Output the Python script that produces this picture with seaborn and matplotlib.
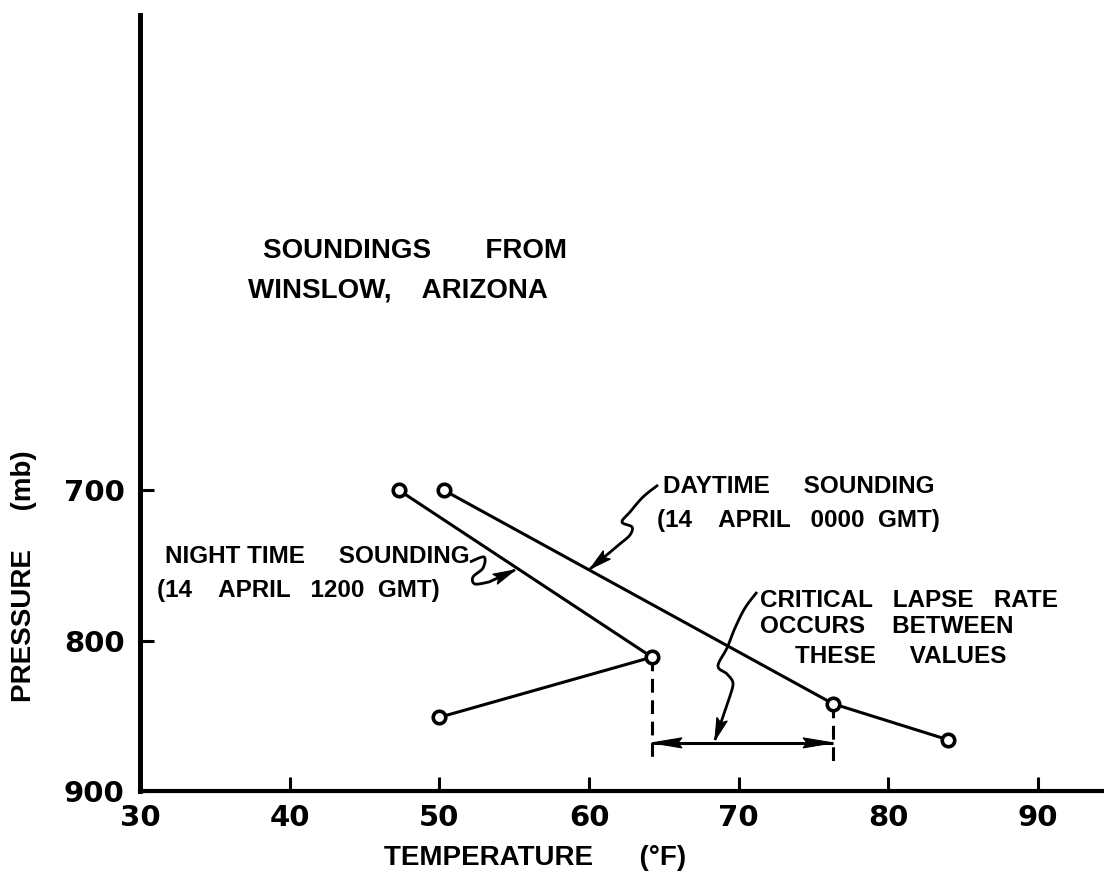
import numpy as np
import pandas as pd
import matplotlib
matplotlib.use("Agg")
import matplotlib.pyplot as plt
import seaborn as sns

# ---------------- data ----------------
night_temp = [47.3, 64.2, 50.0]
night_pres = [700, 811, 851]
day_temp = [50.3, 76.3, 84.0]
day_pres = [700, 842, 866]
x_ticks = [30, 40, 50, 60, 70, 80, 90]
y_ticks = [700, 800, 900]
arrow_pres = 868      # level of the double-headed arrow
dash_bottom = 881     # lower end of the dashed verticals

W, H = 1104, 873
sns.set_theme(style="ticks")
plt.rcParams["font.family"] = ["Liberation Sans", "DejaVu Sans"]

fig = plt.figure(figsize=(W / 100, H / 100), dpi=100)
ax = fig.add_axes([140 / W, 1 - 791 / H, 1 - 140 / W, (791 - 15) / H])

line_kw = dict(color="black", lw=2.2, marker="o", markersize=9,
               markerfacecolor="white", markeredgecolor="black",
               markeredgewidth=2.6, zorder=4)
df_n = pd.DataFrame({"temp": night_temp, "pres": night_pres})
df_d = pd.DataFrame({"temp": day_temp, "pres": day_pres})
sns.lineplot(data=df_n, x="temp", y="pres", sort=False, estimator=None, ax=ax, **line_kw)
sns.lineplot(data=df_d, x="temp", y="pres", sort=False, estimator=None, ax=ax, **line_kw)

ax.set_xlim(30, 94.4)
ax.set_ylim(900, 384)
ax.set_xticks(x_ticks)
ax.set_yticks(y_ticks)
ax.set_xlabel("")
ax.set_ylabel("")
ax.grid(False)
for s in ["top", "right"]:
    ax.spines[s].set_visible(False)
ax.spines["left"].set_linewidth(3.6)
ax.spines["bottom"].set_linewidth(3.0)
ax.spines["left"].set_color("black")
ax.spines["bottom"].set_color("black")
ax.tick_params(axis="both", direction="in", length=10, width=2.2, colors="black",
               labelsize=21, left=True, bottom=True)
ax.tick_params(axis="x", pad=9)
ax.tick_params(axis="y", pad=11)
for lab in ax.get_xticklabels() + ax.get_yticklabels():
    lab.set_fontfamily("DejaVu Sans")
    lab.set_fontweight("bold")

# ---------------- helpers for annotation placement ----------------
inv = ax.transData.inverted()
fwd = ax.transData


def P(px, py):
    return inv.transform((px, H - py))


def to_px(x, p):
    dx, dy = fwd.transform((x, p))
    return dx, H - dy


def head(tip, frm, length=22, half=5.5, notch=5):
    tip = np.asarray(tip, float)
    frm = np.asarray(frm, float)
    u = (tip - frm) / np.hypot(*(tip - frm))
    n = np.array([-u[1], u[0]])
    base = tip - u * length
    pts = [tip, base + n * half, tip - u * (length - notch), base - n * half]
    d = np.array([P(*q) for q in pts])
    ax.fill(d[:, 0], d[:, 1], color="black", lw=0.8, ec="black", zorder=5,
            clip_on=False)


def smooth(pts, n=14):
    pts = np.asarray(pts, float)
    p = np.vstack([pts[0], pts, pts[-1]])
    out = []
    for i in range(1, len(p) - 2):
        p0, p1, p2, p3 = p[i - 1], p[i], p[i + 1], p[i + 2]
        for t in np.linspace(0, 1, n, endpoint=False):
            t2, t3 = t * t, t * t * t
            out.append(0.5 * ((2 * p1) + (-p0 + p2) * t
                              + (2 * p0 - 5 * p1 + 4 * p2 - p3) * t2
                              + (-p0 + 3 * p1 - 3 * p2 + p3) * t3))
    out.append(pts[-1])
    return np.array(out)


def leader(pts, tip):
    c = np.vstack([smooth(pts), [tip]])
    d = np.array([P(x, y) for x, y in c])
    ax.plot(d[:, 0], d[:, 1], color="black", lw=2.0, zorder=3, clip_on=False,
            solid_capstyle="butt")
    head(tip, pts[-1], length=22, half=5.5, notch=4)


# dashed verticals and the double arrow
ax.plot([night_temp[1]] * 2, [night_pres[1], dash_bottom], color="black", lw=2.2,
        ls=(0, (4.5, 2.5)), zorder=2)
ax.plot([day_temp[1]] * 2, [day_pres[1], dash_bottom], color="black", lw=2.2,
        ls=(0, (4.5, 2.5)), zorder=2)
ax.plot([night_temp[1], day_temp[1]], [arrow_pres, arrow_pres], color="black",
        lw=2.2, zorder=3, solid_capstyle="butt")
left_px = to_px(night_temp[1], arrow_pres)
right_px = to_px(day_temp[1], arrow_pres)
head(left_px, right_px, length=30, half=5, notch=4)
head(right_px, left_px, length=30, half=5, notch=4)

leader([(658, 485), (643, 497), (630, 512), (622, 522), (632, 527),
        (630, 535), (621, 543)], (590, 569))
leader([(470, 562), (484, 557), (483, 568), (473, 577), (475, 584),
        (489, 582)], (515, 570))
leader([(757, 592), (745, 608), (735, 628), (727, 648), (718, 666),
        (727, 674), (733, 683), (730, 696)], (715, 740))


# ---------------- texts ----------------
def T(px, py, s, size=17.5, **kw):
    fig.text(px / W, 1 - py / H, s, ha="left", va="baseline", fontsize=size,
             fontweight="bold", color="black", **kw)


T(263, 258, "SOUNDINGS       FROM", size=20)
T(248, 297, "WINSLOW,    ARIZONA", size=20)
T(165, 563, "NIGHT TIME     SOUNDING")
T(157, 597, "(14    APRIL   1200  GMT)")
T(663, 493, "DAYTIME     SOUNDING")
T(657, 527, "(14    APRIL   0000  GMT)")
T(760, 607, "CRITICAL   LAPSE   RATE")
T(760, 633, "OCCURS    BETWEEN")
T(795, 663, "THESE     VALUES")

fig.text(535 / W, 1 - 865 / H, "TEMPERATURE      (°F)", ha="center", va="baseline",
         fontsize=20, fontweight="bold", color="black")
fig.text(24 / W, 1 - 576 / H, "PRESSURE     (mb)", ha="center", va="center",
         rotation=90, fontsize=20, fontweight="bold", color="black")

fig.savefig("out.png", dpi=100)
